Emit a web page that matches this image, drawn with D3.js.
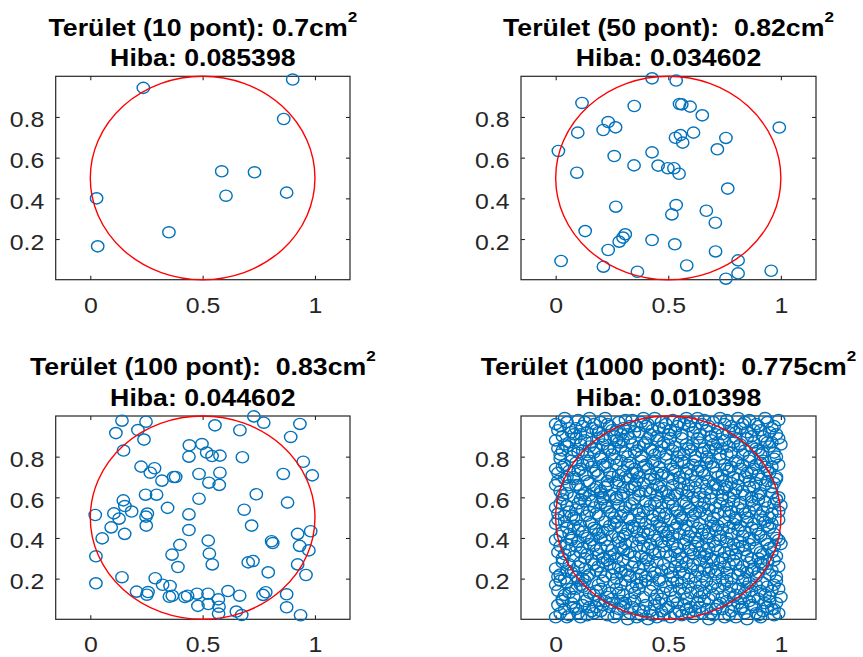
<!DOCTYPE html>
<html><head><meta charset="utf-8">
<script src="https://cdn.jsdelivr.net/npm/d3@7"></script>
<style>body{margin:0;background:#fff}svg{display:block}text{font-family:"Liberation Sans",Arial,sans-serif}</style>
</head><body>
<script>
const areaTitles = ["Terület (10 pont): 0.7cm", "Terület (50 pont):  0.82cm", "Terület (100 pont):  0.83cm", "Terület (1000 pont):  0.775cm"];
const errorTitles = ["Hiba: 0.085398", "Hiba: 0.034602", "Hiba: 0.044602", "Hiba: 0.010398"];
const xTicks = [0, 0.5, 1];
const yTicks = [0.2, 0.4, 0.6, 0.8];
const xTickLabels = ["0", "0.5", "1"];
const yTickLabels = ["0.2", "0.4", "0.6", "0.8"];

const pts10 = [[.236,.943],[.901,.984],[.861,.790],[.585,.533],[.731,.528],[.604,.413],[.874,.428],[.028,.400],[.350,.233],[.033,.164]];

const pts50 = [[.428,.990],[.535,.979],[.117,.869],[.349,.854],[.550,.864],[.560,.862],[.597,.851],[.651,.808],[.233,.775],[.211,.736],
[.266,.749],[.098,.723],[.993,.748],[.612,.723],[.532,.698],[.554,.711],[.564,.674],[.756,.697],[.718,.641],[.012,.633],
[.428,.626],[.260,.608],[.348,.562],[.455,.561],[.498,.548],[.525,.548],[.548,.521],[.094,.526],[.764,.448],[.267,.359],
[.535,.367],[.516,.321],[.669,.339],[.709,.280],[.131,.239],[.309,.223],[.299,.207],[.282,.187],[.428,.195],[.529,.174],
[.233,.146],[.710,.139],[.024,.092],[.212,.064],[.363,.039],[.582,.070],[.810,.095],[.810,.031],[.957,.044],[.756,.005]];

const pts100 = [[.141,.977],[.114,.916],[.248,.972],[.212,.931],[.239,.884],[.148,.830],[.555,.954],[.666,.930],[.728,.998],[.772,.967],
[.933,.961],[.892,.897],[.948,.775],[.988,.708],[.859,.715],[.441,.856],[.497,.862],[.518,.820],[.542,.803],[.577,.805],
[.439,.800],[.677,.797],[.226,.751],[.286,.743],[.267,.721],[.319,.682],[.371,.700],[.380,.700],[.484,.715],[.577,.721],
[.528,.672],[.574,.661],[.246,.613],[.295,.613],[.484,.593],[.739,.615],[.878,.574],[.147,.585],[.154,.557],[.184,.530],
[.105,.521],[.022,.513],[.128,.495],[.254,.520],[.248,.505],[.249,.461],[.344,.548],[.439,.516],[.685,.539],[.718,.461],
[.093,.452],[.053,.398],[.153,.420],[.439,.439],[.525,.387],[.399,.366],[.364,.318],[.530,.323],[.543,.270],[.390,.257],
[.025,.310],[.141,.207],[.025,.177],[.289,.202],[.206,.136],[.257,.134],[.252,.121],[.322,.170],[.355,.164],[.365,.116],
[.352,.111],[.421,.110],[.433,.116],[.475,.126],[.479,.066],[.524,.126],[.525,.075],[.570,.098],[.573,.062],[.571,.028],
[.613,.139],[.665,.116],[.650,.038],[.674,.021],[.724,.287],[.703,.280],[.792,.231],[.812,.375],[.807,.384],[.923,.420],
[.981,.433],[.932,.361],[.973,.339],[.923,.270],[.960,.218],[.769,.120],[.781,.133],[.874,.123],[.874,.059],[.936,.020]];

const pts1000 = [
[.02,.03],[.07,.08],[.11,.01],[.15,.06],[.19,.09],[.23,.02],[.28,.05],[.31,.08],[.36,.01],[.39,.04],[.44,.07],[.48,.02],[.52,.09],[.55,.04],[.61,.01],[.64,.06],[.69,.03],[.73,.08],[.77,.02],[.82,.05],[.86,.09],[.91,.01],[.94,.06],[.99,.03],
[.01,.07],[.05,.01],[.09,.05],[.13,.09],[.17,.03],[.21,.07],[.26,.01],[.29,.09],[.34,.06],[.38,.02],[.42,.04],[.46,.08],[.51,.01],[.57,.07],[.59,.03],[.66,.09],[.71,.05],[.75,.01],[.79,.07],[.84,.03],[.88,.06],[.93,.08],[.97,.02],
[.04,.05],[.10,.03],[.14,.02],[.18,.06],[.25,.08],[.33,.03],[.41,.00],[.49,.05],[.54,.08],[.62,.04],[.68,.00],[.74,.05],[.81,.08],[.89,.03],[.96,.05],[.00,.01],[.03,.09],[.12,.07],[.20,.04],[.27,.03],[.35,.09],[.43,.02],[.50,.06],[.58,.05],[.63,.08],[.70,.02],[.78,.04],[.85,.00],[.92,.04],[.98,.08],
[.06,.02],[.16,.04],[.24,.06],[.32,.00],[.40,.07],[.47,.04],[.56,.02],[.65,.03],[.72,.07],[.80,.01],[.87,.07],[.95,.09],[.08,.06],[.22,.09],[.30,.06],[.37,.05],[.45,.01],[.53,.03],[.60,.06],[.67,.05],[.76,.09],[.83,.06],[.90,.02],[.97,.05],
[.01,.14],[.05,.18],[.08,.11],[.12,.16],[.17,.12],[.21,.19],[.24,.13],[.29,.17],[.33,.10],[.37,.15],[.40,.19],[.45,.12],[.49,.16],[.53,.11],[.56,.18],[.60,.13],[.65,.17],[.68,.10],[.72,.15],[.76,.19],[.80,.12],[.85,.16],[.88,.11],[.92,.18],[.96,.14],[1.0,.11],
[.03,.10],[.07,.15],[.10,.19],[.15,.13],[.19,.17],[.23,.11],[.27,.15],[.31,.19],[.35,.13],[.39,.11],[.43,.17],[.47,.10],[.51,.14],[.55,.15],[.58,.10],[.63,.14],[.67,.19],[.70,.12],[.74,.11],[.78,.16],[.83,.19],[.87,.14],[.90,.10],[.94,.16],[.98,.19],
[.00,.17],[.04,.12],[.09,.15],[.13,.19],[.18,.14],[.26,.18],[.30,.12],[.36,.17],[.42,.14],[.46,.19],[.52,.18],[.59,.16],[.64,.11],[.71,.18],[.77,.13],[.82,.10],[.86,.18],[.93,.12],[.99,.15],
[.02,.19],[.06,.13],[.11,.17],[.14,.10],[.20,.15],[.25,.10],[.28,.13],[.34,.16],[.38,.18],[.44,.10],[.48,.13],[.54,.19],[.57,.13],[.62,.18],[.66,.13],[.69,.16],[.75,.17],[.79,.11],[.81,.15],[.84,.13],[.89,.17],[.91,.14],[.95,.11],[.97,.17],
[.02,.22],[.06,.27],[.09,.21],[.13,.25],[.16,.29],[.20,.23],[.24,.27],[.27,.20],[.31,.24],[.35,.28],[.38,.22],[.42,.26],[.46,.20],[.50,.25],[.54,.29],[.57,.22],[.61,.27],[.65,.21],[.69,.25],[.73,.28],[.76,.23],[.80,.27],[.84,.20],[.87,.24],[.91,.28],[.95,.22],[.99,.26],
[.00,.25],[.04,.20],[.08,.24],[.11,.28],[.15,.22],[.19,.26],[.22,.21],[.26,.25],[.30,.29],[.33,.21],[.37,.25],[.41,.29],[.44,.23],[.48,.27],[.52,.21],[.56,.26],[.59,.20],[.63,.24],[.67,.28],[.71,.22],[.75,.26],[.78,.20],[.82,.24],[.86,.28],[.89,.21],[.93,.25],[.97,.29],
[.03,.28],[.07,.23],[.12,.20],[.18,.24],[.23,.29],[.29,.23],[.34,.26],[.40,.21],[.45,.28],[.51,.23],[.58,.28],[.62,.21],[.68,.23],[.74,.20],[.79,.29],[.85,.23],[.92,.27],[.98,.21],
[.01,.21],[.05,.24],[.10,.26],[.14,.21],[.17,.27],[.21,.28],[.25,.22],[.28,.26],[.32,.22],[.36,.20],[.39,.27],[.43,.21],[.47,.24],[.53,.26],[.55,.23],[.60,.25],[.64,.29],[.66,.25],[.70,.29],[.72,.24],[.77,.27],[.81,.22],[.83,.26],[.88,.25],[.90,.23],[.94,.29],[.96,.24],
[.01,.33],[.05,.37],[.08,.31],[.12,.35],[.16,.39],[.19,.32],[.23,.36],[.27,.30],[.30,.34],[.34,.38],[.38,.31],[.41,.35],[.45,.39],[.49,.33],[.52,.37],[.56,.30],[.60,.34],[.63,.38],[.67,.32],[.71,.36],[.74,.30],[.78,.34],[.82,.38],[.85,.31],[.89,.35],[.93,.39],[.96,.33],[1.0,.37],
[.03,.30],[.06,.34],[.10,.38],[.14,.32],[.17,.36],[.21,.30],[.25,.34],[.28,.38],[.32,.32],[.36,.36],[.40,.30],[.43,.34],[.47,.38],[.51,.31],[.54,.35],[.58,.39],[.61,.32],[.65,.36],[.69,.30],[.72,.34],[.76,.38],[.80,.32],[.83,.36],[.87,.30],[.91,.33],[.94,.37],[.98,.31],
[.00,.39],[.04,.32],[.09,.36],[.13,.30],[.18,.34],[.22,.39],[.26,.32],[.31,.37],[.35,.31],[.39,.36],[.44,.32],[.48,.36],[.53,.33],[.57,.37],[.62,.36],[.66,.31],[.70,.38],[.75,.33],[.79,.37],[.84,.34],[.88,.39],[.92,.32],[.97,.36],
[.02,.36],[.07,.39],[.11,.33],[.15,.37],[.20,.35],[.24,.31],[.29,.35],[.33,.33],[.37,.39],[.42,.37],[.46,.33],[.50,.39],[.55,.32],[.59,.35],[.64,.33],[.68,.35],[.73,.39],[.77,.31],[.81,.35],[.86,.37],[.90,.30],[.95,.35],[.99,.39],
[.02,.41],[.05,.45],[.09,.49],[.12,.43],[.16,.47],[.20,.40],[.23,.44],[.27,.48],[.31,.42],[.34,.46],[.38,.40],[.42,.44],[.45,.48],[.49,.41],[.53,.45],[.56,.49],[.60,.43],[.64,.47],[.67,.40],[.71,.44],[.75,.48],[.78,.42],[.82,.46],[.86,.40],[.89,.44],[.93,.48],[.97,.42],
[.00,.47],[.03,.43],[.07,.40],[.11,.46],[.14,.40],[.18,.44],[.22,.48],[.25,.41],[.29,.45],[.33,.49],[.36,.43],[.40,.47],[.44,.41],[.47,.45],[.51,.49],[.55,.42],[.58,.46],[.62,.40],[.66,.44],[.69,.48],[.73,.41],[.77,.45],[.80,.49],[.84,.43],[.88,.47],[.91,.41],[.95,.45],[.99,.49],
[.01,.49],[.06,.42],[.10,.44],[.15,.48],[.19,.42],[.24,.46],[.28,.40],[.32,.44],[.37,.48],[.41,.42],[.46,.46],[.50,.43],[.54,.47],[.59,.41],[.63,.45],[.68,.42],[.72,.46],[.76,.40],[.81,.44],[.85,.48],[.90,.42],[.94,.46],[.98,.40],
[.04,.48],[.08,.46],[.13,.41],[.17,.45],[.21,.43],[.26,.47],[.30,.41],[.35,.45],[.39,.43],[.43,.49],[.48,.43],[.52,.41],[.57,.44],[.61,.48],[.65,.42],[.70,.46],[.74,.44],[.79,.47],[.83,.41],[.87,.45],[.92,.49],[.96,.47],
[.01,.52],[.05,.56],[.08,.50],[.12,.54],[.16,.58],[.19,.51],[.23,.55],[.27,.59],[.30,.53],[.34,.57],[.38,.50],[.41,.54],[.45,.58],[.49,.52],[.52,.56],[.56,.50],[.60,.54],[.63,.58],[.67,.51],[.71,.55],[.74,.59],[.78,.53],[.82,.57],[.85,.50],[.89,.54],[.93,.58],[.96,.52],[1.0,.56],
[.03,.59],[.06,.53],[.10,.57],[.14,.51],[.17,.55],[.21,.59],[.25,.52],[.28,.56],[.32,.50],[.36,.54],[.40,.58],[.43,.51],[.47,.55],[.51,.59],[.54,.53],[.58,.57],[.61,.51],[.65,.55],[.69,.59],[.72,.52],[.76,.56],[.80,.50],[.83,.54],[.87,.58],[.91,.51],[.94,.55],[.98,.59],
[.00,.55],[.04,.51],[.09,.54],[.13,.58],[.18,.52],[.22,.56],[.26,.50],[.31,.55],[.35,.59],[.39,.53],[.44,.57],[.48,.50],[.53,.54],[.57,.58],[.62,.52],[.66,.57],[.70,.50],[.75,.53],[.79,.58],[.84,.52],[.88,.56],[.92,.53],[.97,.57],
[.02,.57],[.07,.51],[.11,.59],[.15,.53],[.20,.57],[.24,.53],[.29,.51],[.33,.56],[.37,.52],[.42,.56],[.46,.52],[.50,.57],[.55,.51],[.59,.55],[.64,.53],[.68,.54],[.73,.57],[.77,.51],[.81,.55],[.86,.53],[.90,.59],[.95,.50],[.99,.53],
[.03,.61],[.06,.66],[.08,.69],[.13,.62],[.15,.67],[.21,.60],[.22,.65],[.28,.68],[.30,.62],[.35,.66],[.37,.61],[.43,.64],[.44,.69],[.50,.61],[.52,.66],[.57,.69],[.59,.63],[.65,.67],[.66,.60],[.72,.64],[.74,.68],[.79,.62],[.81,.66],[.87,.60],[.88,.65],[.94,.68],[.96,.62],
[.00,.66],[.02,.63],[.08,.60],[.10,.66],[.15,.61],[.17,.64],[.23,.68],[.24,.61],[.30,.65],[.32,.69],[.37,.63],[.39,.67],[.45,.61],[.46,.65],[.52,.69],[.54,.62],[.59,.66],[.61,.60],[.67,.64],[.68,.68],[.74,.61],[.76,.65],[.81,.69],[.83,.63],[.89,.67],[.90,.61],[.96,.65],[.98,.69],
[.01,.68],[.05,.62],[.11,.64],[.14,.68],[.20,.62],[.23,.66],[.27,.60],[.33,.64],[.36,.68],[.42,.62],[.45,.66],[.49,.63],[.55,.67],[.58,.61],[.62,.65],[.69,.62],[.71,.66],[.77,.60],[.80,.64],[.86,.68],[.91,.62],[.93,.66],[.99,.60],
[.04,.69],[.09,.66],[.12,.61],[.18,.65],[.20,.63],[.27,.67],[.29,.61],[.34,.65],[.40,.63],[.42,.69],[.47,.63],[.53,.61],[.56,.64],[.62,.68],[.64,.62],[.70,.66],[.75,.64],[.78,.67],[.84,.61],[.86,.65],[.91,.69],[.97,.67],
[.01,.72],[.04,.76],[.08,.70],[.11,.74],[.15,.78],[.19,.71],[.22,.75],[.26,.79],[.30,.73],[.33,.77],[.37,.70],[.41,.74],[.44,.78],[.48,.72],[.51,.76],[.55,.70],[.59,.74],[.62,.78],[.66,.71],[.70,.75],[.73,.79],[.77,.73],[.81,.77],[.84,.70],[.88,.74],[.92,.78],[.95,.72],[.99,.76],
[.02,.79],[.06,.73],[.09,.77],[.13,.71],[.16,.75],[.20,.79],[.24,.72],[.27,.76],[.31,.70],[.35,.74],[.38,.78],[.42,.71],[.46,.75],[.49,.79],[.53,.73],[.57,.77],[.60,.71],[.64,.75],[.68,.79],[.71,.72],[.75,.76],[.79,.70],[.82,.74],[.86,.78],[.90,.71],[.93,.75],[.97,.79],
[.00,.74],[.05,.70],[.10,.73],[.14,.77],[.18,.73],[.23,.77],[.28,.71],[.32,.76],[.36,.72],[.40,.76],[.45,.72],[.50,.70],[.54,.77],[.58,.72],[.63,.73],[.67,.77],[.72,.70],[.76,.74],[.80,.78],[.85,.72],[.89,.76],[.94,.73],[.98,.70],
[.03,.75],[.07,.78],[.12,.76],[.17,.72],[.21,.76],[.25,.70],[.29,.78],[.34,.72],[.39,.75],[.43,.77],[.47,.71],[.52,.74],[.56,.78],[.61,.76],[.65,.73],[.69,.77],[.74,.71],[.78,.75],[.83,.76],[.87,.72],[.91,.77],[.96,.75],
[.02,.81],[.05,.85],[.09,.89],[.12,.83],[.16,.87],[.20,.80],[.23,.84],[.27,.88],[.31,.82],[.34,.86],[.38,.80],[.42,.84],[.45,.88],[.49,.81],[.53,.85],[.56,.89],[.60,.83],[.64,.87],[.67,.80],[.71,.84],[.75,.88],[.78,.82],[.82,.86],[.86,.80],[.89,.84],[.93,.88],[.97,.82],[1.0,.86],
[.00,.88],[.03,.83],[.07,.80],[.11,.86],[.14,.81],[.18,.84],[.22,.88],[.25,.81],[.29,.85],[.33,.89],[.36,.83],[.40,.87],[.44,.81],[.47,.85],[.51,.89],[.55,.82],[.58,.86],[.62,.80],[.66,.84],[.69,.88],[.73,.81],[.77,.85],[.80,.89],[.84,.83],[.88,.87],[.91,.81],[.95,.85],[.99,.89],
[.01,.84],[.06,.87],[.10,.82],[.15,.85],[.19,.89],[.24,.83],[.28,.87],[.32,.80],[.37,.85],[.41,.89],[.46,.82],[.50,.86],[.54,.80],[.59,.84],[.63,.89],[.68,.83],[.72,.87],[.76,.81],[.81,.85],[.85,.89],[.90,.83],[.94,.87],[.98,.80],
[.04,.86],[.08,.83],[.13,.88],[.17,.82],[.21,.86],[.26,.84],[.30,.88],[.35,.82],[.39,.86],[.43,.83],[.48,.87],[.52,.83],[.57,.81],[.61,.86],[.65,.82],[.70,.86],[.74,.84],[.79,.87],[.83,.81],[.87,.85],[.92,.82],[.96,.87],
[.01,.93],[.05,.97],[.08,.91],[.12,.95],[.15,.99],[.19,.92],[.23,.96],[.26,.90],[.30,.94],[.34,.98],[.37,.92],[.41,.96],[.45,.90],[.48,.94],[.52,.98],[.56,.91],[.59,.95],[.63,.99],[.67,.93],[.70,.97],[.74,.91],[.78,.95],[.81,.99],[.85,.92],[.89,.96],[.92,.90],[.96,.94],[.99,.98],
[.03,.90],[.06,.94],[.10,.98],[.14,.92],[.17,.96],[.21,.90],[.25,.93],[.28,.97],[.32,.91],[.36,.95],[.39,.99],[.43,.93],[.47,.97],[.50,.91],[.54,.95],[.58,.99],[.61,.92],[.65,.96],[.69,.90],[.72,.94],[.76,.98],[.80,.92],[.83,.96],[.87,.90],[.91,.93],[.94,.97],[.98,.91],
[.00,.96],[.04,.99],[.09,.94],[.13,.97],[.18,.93],[.22,.99],[.27,.93],[.31,.98],[.35,.92],[.40,.95],[.44,.99],[.49,.96],[.53,.92],[.57,.96],[.62,.94],[.66,.98],[.71,.91],[.75,.96],[.79,.93],[.84,.97],[.88,.93],[.93,.99],[.97,.95],
[.02,.95],[.07,.92],[.11,.91],[.16,.94],[.20,.97],[.24,.95],[.29,.91],[.33,.95],[.38,.97],[.42,.91],[.46,.94],[.51,.93],[.55,.97],[.60,.97],[.64,.91],[.68,.95],[.73,.99],[.77,.92],[.82,.94],[.86,.98],[.90,.95],[.95,.92]
];

const datasets = [pts10, pts50, pts100, pts1000];

const W = 863, H = 657;
const SX = 1.104; // horizontal stretch of the original picture
const layout = [
  {x0: 55.7, x1: 350, yb: 279.7, yt: 76.3, t1: 36, t2: 66},
  {x0: 521, x1: 816, yb: 279.7, yt: 76.3, t1: 36, t2: 66},
  {x0: 55.7, x1: 350, yb: 619.3, yt: 416, t1: 375, t2: 406},
  {x0: 521, x1: 816, yb: 619.3, yt: 416, t1: 375, t2: 406}
];
const axisColor = "#262626";
const markerColor = "#0072BD";

const svg = d3.select("body").append("svg").attr("width", W).attr("height", H);

datasets.forEach((pts, i) => {
  const L = layout[i];
  const x = d3.scaleLinear().domain([-0.154, 1.156]).range([L.x0, L.x1]);
  const y = d3.scaleLinear().domain([0, 1]).range([L.yb, L.yt]);
  const g = svg.append("g");

  g.append("rect").attr("x", L.x0).attr("y", L.yt).attr("width", L.x1 - L.x0).attr("height", L.yb - L.yt)
    .attr("fill", "none").attr("stroke", axisColor).attr("stroke-width", 1.2);

  const styleAxis = (sel) => {
    sel.select(".domain").remove();
    sel.selectAll(".tick line").attr("stroke", axisColor).attr("stroke-width", 1.1);
  };
  const gb = g.append("g").attr("transform", `translate(0,${L.yb})`)
    .call(d3.axisBottom(x).tickValues(xTicks).tickFormat((d, k) => xTickLabels[k]).tickSizeInner(-4).tickSizeOuter(0));
  styleAxis(gb);
  gb.selectAll(".tick text").attr("y", 33).attr("dy", 0).attr("fill", axisColor)
    .attr("font-size", 22.5).attr("transform", `scale(${SX},1)`);
  const gt = g.append("g").attr("transform", `translate(0,${L.yt})`)
    .call(d3.axisTop(x).tickValues(xTicks).tickFormat("").tickSizeInner(-4).tickSizeOuter(0));
  styleAxis(gt);
  const gl = g.append("g").attr("transform", `translate(${L.x0},0)`)
    .call(d3.axisLeft(y).tickValues(yTicks).tickFormat((d, k) => yTickLabels[k]).tickSizeInner(-4).tickSizeOuter(0));
  styleAxis(gl);
  gl.selectAll(".tick text").attr("x", -11.4 / SX).attr("dy", 0).attr("y", 10).attr("fill", axisColor)
    .attr("font-size", 22.5).attr("text-anchor", "end").attr("transform", `scale(${SX},1)`);
  const gr = g.append("g").attr("transform", `translate(${L.x1},0)`)
    .call(d3.axisRight(y).tickValues(yTicks).tickFormat("").tickSizeInner(-4).tickSizeOuter(0));
  styleAxis(gr);

  g.append("g").selectAll("ellipse").data(pts).join("ellipse")
    .attr("cx", d => x(d[0])).attr("cy", d => y(d[1]))
    .attr("rx", 6.2).attr("ry", 5.6)
    .attr("fill", "none").attr("stroke", markerColor).attr("stroke-width", 1.4);

  g.append("ellipse")
    .attr("cx", x(0.5)).attr("cy", y(0.5))
    .attr("rx", x(1) - x(0.5)).attr("ry", y(0) - y(0.5))
    .attr("fill", "none").attr("stroke", "#ff0000").attr("stroke-width", 1.4);

  const cx = (L.x0 + L.x1) / 2;
  const t1 = g.append("text").attr("transform", `translate(${cx},${L.t1}) scale(${SX},1)`)
    .attr("text-anchor", "middle").attr("font-weight", "bold").attr("font-size", 24.2)
    .attr("fill", "#000").style("white-space", "pre");
  t1.append("tspan").text(areaTitles[i]);
  t1.append("tspan").attr("font-size", 15.5).attr("dy", -14).text("2");
  g.append("text").attr("transform", `translate(${cx},${L.t2}) scale(${SX},1)`)
    .attr("text-anchor", "middle").attr("font-weight", "bold").attr("font-size", 24.2)
    .attr("fill", "#000").text(errorTitles[i]);
});
</script>
</body></html>
